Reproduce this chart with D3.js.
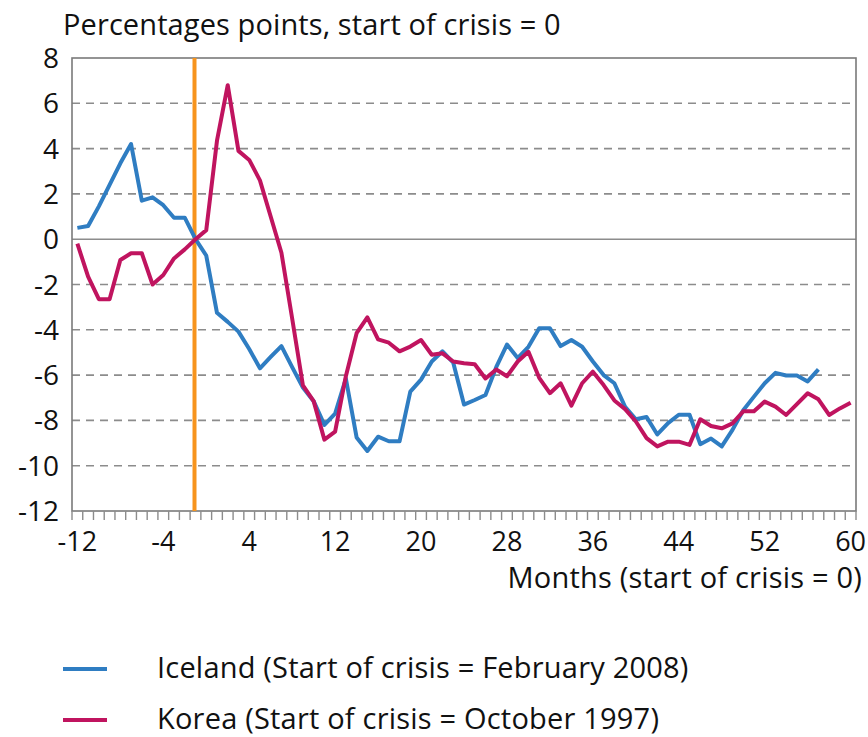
<!DOCTYPE html>
<html>
<head>
<meta charset="utf-8">
<script src="https://cdn.jsdelivr.net/npm/d3@7.9.0/dist/d3.min.js"></script>
<style>
  body { margin: 0; background: #fff; }
  svg { display: block; font-family: "Open Sans", sans-serif; }
</style>
</head>
<body>
<svg id="viz" width="868" height="737"></svg>
<script>
// Categories (months, as labelled on the axis)
const months = d3.range(-12, 61);
const xTickLabels = [-12, -4, 4, 12, 20, 28, 36, 44, 52, 60];
const yTicks = [8, 6, 4, 2, 0, -2, -4, -6, -8, -10, -12];
const crisisMonth = -1;

// Iceland, months -12..57
const iceland = [
  0.5, 0.58, 1.45, 2.4, 3.35, 4.2, 1.7, 1.85, 1.5, 0.95, 0.95, 0,
  -0.72, -3.25, -3.65, -4.08, -4.85, -5.7, -5.2, -4.72, -5.65, -6.55, -7.15, -8.2,
  -7.7, -6.15, -8.75, -9.35, -8.72, -8.92, -8.92, -6.73, -6.2, -5.4, -4.95, -5.45,
  -7.3, -7.1, -6.88, -5.65, -4.65, -5.25, -4.75, -3.93, -3.93, -4.72, -4.45, -4.75,
  -5.4, -6.0, -6.36, -7.4, -7.95, -7.85, -8.62, -8.12, -7.75, -7.75, -9.05, -8.8,
  -9.15, -8.42, -7.55, -6.95, -6.36, -5.9, -6.02, -6.02, -6.28, -5.75
];

// Korea, months -12..60
const korea = [
  -0.2, -1.65, -2.65, -2.65, -0.92, -0.62, -0.62, -2.0, -1.58, -0.85, -0.45, 0,
  0.4, 4.35, 6.8, 3.9, 3.5, 2.6, 1.0, -0.6, -3.5, -6.45, -7.15, -8.85,
  -8.5, -6.05, -4.15, -3.45, -4.42, -4.57, -4.95, -4.74, -4.45, -5.1, -5.04, -5.4,
  -5.48, -5.52, -6.15, -5.75, -6.05, -5.4, -4.97, -6.12, -6.8, -6.36, -7.35, -6.36,
  -5.85, -6.44, -7.12, -7.5, -8.05, -8.78, -9.15, -8.94, -8.94, -9.08, -7.95, -8.25,
  -8.35, -8.13, -7.6, -7.6, -7.17, -7.39, -7.76, -7.28, -6.8, -7.07, -7.76, -7.47,
  -7.22
];

const seriesNames = [
  "Iceland (Start of crisis = February 2008)",
  "Korea (Start of crisis = October 1997)"
];
const colors = ["#2f7dc2", "#c0145f"];

const svg = d3.select("#viz");
const L = 72, R = 856, T = 58, B = 511;

const x = d3.scaleBand().domain(months).range([L, R]).padding(0);
const bw = x.bandwidth();
const xc = (m) => x(m) + bw / 2;
const y = d3.scaleLinear().domain([-12, 8]).range([B, T]);

// Grid
svg.append("g")
  .selectAll("line")
  .data(yTicks.filter((d) => d !== 0 && d !== 8 && d !== -12))
  .join("line")
  .attr("x1", L).attr("x2", R)
  .attr("y1", (d) => y(d)).attr("y2", (d) => y(d))
  .attr("stroke", "#8c8c8c")
  .attr("stroke-width", 1.6)
  .attr("stroke-dasharray", "8,6");

svg.append("line")
  .attr("x1", L).attr("x2", R)
  .attr("y1", y(0)).attr("y2", y(0))
  .attr("stroke", "#8c8c8c")
  .attr("stroke-width", 1.6);

// Frame
svg.append("rect")
  .attr("x", L).attr("y", T)
  .attr("width", R - L).attr("height", B - T)
  .attr("fill", "none")
  .attr("stroke", "#7a7a7a")
  .attr("stroke-width", 1.6);

// Minor ticks at each category boundary
svg.append("g")
  .selectAll("line")
  .data(months.map((m) => x(m)).concat([R]))
  .join("line")
  .attr("x1", (d) => d).attr("x2", (d) => d)
  .attr("y1", B).attr("y2", B + 9)
  .attr("stroke", "#8c8c8c")
  .attr("stroke-width", 1.4);

// Y labels
svg.append("g")
  .selectAll("text")
  .data(yTicks)
  .join("text")
  .attr("x", 59)
  .attr("y", (d) => y(d))
  .attr("dy", "0.36em")
  .attr("text-anchor", "end")
  .attr("font-size", 28)
  .attr("fill", "#111")
  .text((d) => d);

// X labels
svg.append("g")
  .selectAll("text")
  .data(xTickLabels)
  .join("text")
  .attr("x", (d) => xc(d))
  .attr("y", 551)
  .attr("text-anchor", "middle")
  .attr("font-size", 27)
  .attr("fill", "#111")
  .text((d) => d);

svg.append("text")
  .attr("x", 862).attr("y", 588)
  .attr("text-anchor", "end")
  .attr("font-size", 29)
  .attr("letter-spacing", 0.2)
  .attr("fill", "#111")
  .text("Months (start of crisis = 0)");

svg.append("text")
  .attr("x", 63).attr("y", 35)
  .attr("font-size", 29)
  .attr("letter-spacing", 0.1)
  .attr("fill", "#111")
  .text("Percentages points, start of crisis = 0");

// Crisis marker
svg.append("line")
  .attr("x1", xc(crisisMonth) - 1).attr("x2", xc(crisisMonth) - 1)
  .attr("y1", T).attr("y2", B)
  .attr("stroke", "#f7941d")
  .attr("stroke-width", 4);

// Series
const line = d3.line()
  .x((d) => xc(d.m))
  .y((d) => y(d.v));

[iceland, korea].forEach((vals, i) => {
  const pts = vals.map((v, j) => ({ m: months[j], v }));
  svg.append("path")
    .datum(pts)
    .attr("fill", "none")
    .attr("stroke", colors[i])
    .attr("stroke-width", 4)
    .attr("stroke-linejoin", "round")
    .attr("d", line);
});

// Legend
const leg = svg.append("g")
  .selectAll("g")
  .data(seriesNames)
  .join("g")
  .attr("transform", (_, i) => `translate(0, ${669 + i * 51})`);

leg.append("line")
  .attr("x1", 63).attr("x2", 107)
  .attr("stroke", (_, i) => colors[i])
  .attr("stroke-width", 4);

leg.append("text")
  .attr("x", 157)
  .attr("y", 9)
  .attr("font-size", 29)
  .attr("letter-spacing", 0.2)
  .attr("fill", "#111")
  .text((d) => d);
</script>
</body>
</html>
